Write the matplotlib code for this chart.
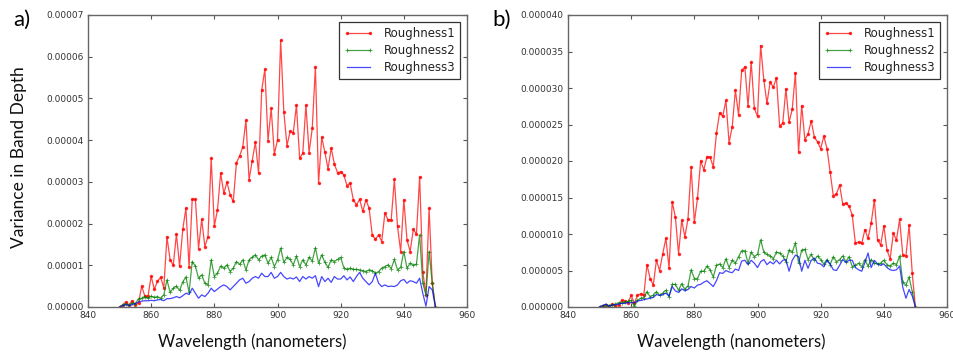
import numpy as np
import matplotlib
matplotlib.use("Agg")
import matplotlib.pyplot as plt
from matplotlib.ticker import FuncFormatter, MultipleLocator

# ---------------- data ----------------
wavelength = np.arange(850, 951)  # nm, 1 nm step

# panel a (units of 1e-5)
red_a = [0.0, 0.05, 0.12, 0.05, 0.15, 0.05, 0.10, 0.50, 0.26, 0.26,
         0.74, 0.42, 0.62, 0.71, 0.46, 1.68, 1.13, 1.00, 1.75, 0.98,
         1.86, 2.37, 0.95, 2.58, 2.58, 1.40, 2.10, 1.45, 1.69, 3.57,
         1.94, 2.33, 3.21, 2.73, 2.99, 2.69, 2.53, 3.46, 3.62, 3.84,
         4.48, 3.05, 3.51, 3.95, 3.21, 5.20, 5.70, 3.99, 4.76, 3.67,
         4.00, 6.40, 4.68, 3.87, 4.21, 4.18, 4.84, 3.57, 3.68, 4.84,
         3.70, 4.28, 5.76, 2.97, 4.07, 3.71, 3.31, 3.81, 3.43, 3.22,
         3.24, 3.17, 2.91, 2.97, 2.57, 2.45, 2.58, 2.29, 2.57, 2.37,
         1.73, 1.62, 1.73, 1.57, 2.25, 2.09, 2.09, 3.06, 1.93, 1.33,
         2.57, 1.61, 1.33, 1.86, 1.75, 3.12, 0.85, 0.29, 2.37, 0.57,
         0.0]
green_a = [0.0, 0.05, 0.08, 0.04, 0.10, 0.08, 0.20, 0.21, 0.25, 0.21,
           0.26, 0.23, 0.25, 0.21, 0.29, 0.65, 0.35, 0.45, 0.50, 0.40,
           0.60, 0.72, 0.35, 1.09, 0.98, 0.69, 0.77, 0.57, 0.53, 1.13,
           0.73, 0.81, 0.98, 0.93, 1.01, 0.85, 0.93, 1.09, 1.02, 1.13,
           0.89, 1.13, 1.19, 1.25, 1.13, 1.22, 1.25, 1.05, 1.19, 0.97,
           1.13, 1.41, 1.07, 1.19, 1.14, 1.01, 1.22, 0.97, 1.13, 1.01,
           1.19, 1.10, 1.42, 1.05, 1.25, 1.07, 0.95, 1.13, 1.09, 1.14,
           1.19, 0.94, 0.90, 0.93, 0.90, 0.90, 0.89, 0.87, 0.85, 0.89,
           0.87, 0.81, 0.85, 0.93, 0.97, 1.01, 0.92, 1.14, 0.89, 0.95,
           1.33, 0.93, 1.05, 1.00, 1.03, 1.73, 0.57, 0.29, 1.33, 0.57,
           0.0]
blue_a = [0.0, 0.03, 0.06, 0.03, 0.06, 0.08, 0.12, 0.14, 0.15, 0.15,
          0.16, 0.15, 0.17, 0.18, 0.15, 0.20, 0.20, 0.22, 0.25, 0.22,
          0.27, 0.33, 0.30, 0.45, 0.33, 0.21, 0.29, 0.25, 0.33, 0.45,
          0.37, 0.43, 0.49, 0.53, 0.49, 0.41, 0.49, 0.57, 0.65, 0.69,
          0.57, 0.61, 0.69, 0.73, 0.69, 0.81, 0.73, 0.73, 0.83, 0.69,
          0.73, 0.83, 0.73, 0.67, 0.70, 0.67, 0.72, 0.61, 0.73, 0.67,
          0.73, 0.69, 0.75, 0.49, 0.73, 0.61, 0.69, 0.59, 0.73, 0.67,
          0.67, 0.75, 0.65, 0.72, 0.61, 0.73, 0.83, 0.69, 0.61, 0.53,
          0.61, 0.81, 0.57, 0.49, 0.53, 0.49, 0.50, 0.49, 0.53, 0.63,
          0.66, 0.57, 0.63, 0.61, 0.57, 0.69, 0.33, 0.02, 0.49, 0.41,
          0.0]

# panel b (units of 1e-6)
red_b = [0.0, 0.1, 0.23, 0.1, 0.37, 0.1, 0.23, 0.92, 0.8, 0.6,
         1.6, 0.5, 1.6, 1.8, 1.6, 5.8, 3.9, 3.0, 6.4, 5.0,
         7.3, 9.4, 5.3, 14.4, 12.3, 7.3, 11.9, 9.6, 12.1, 19.2,
         11.6, 14.9, 20.0, 18.8, 20.6, 20.5, 19.2, 23.8, 26.6, 26.1,
         28.3, 22.5, 24.7, 29.7, 26.3, 32.4, 32.9, 27.5, 33.6, 27.2,
         26.1, 35.8, 31.1, 27.9, 30.8, 30.1, 31.4, 24.8, 25.2, 29.9,
         25.3, 27.1, 32.1, 21.2, 27.6, 22.9, 23.7, 25.5, 23.3, 22.6,
         21.7, 23.4, 21.7, 18.5, 15.2, 15.5, 16.7, 14.1, 14.2, 13.8,
         12.6, 8.7, 8.9, 8.7, 10.6, 9.4, 11.5, 14.7, 9.2, 8.5,
         11.1, 7.8, 6.6, 10.1, 9.2, 12.0, 7.1, 7.0, 11.2, 4.6,
         0.0]
green_b = [0.0, 0.2, 0.3, 0.2, 0.3, 0.4, 0.6, 0.6, 0.7, 0.8,
           0.9, 0.1, 0.9, 1.2, 1.3, 2.1, 1.4, 1.6, 2.1, 1.6,
           1.9, 2.3, 1.4, 3.1, 3.1, 2.3, 3.2, 2.4, 2.9, 5.1,
           3.9, 3.9, 4.9, 4.9, 5.6, 5.1, 4.1, 5.7, 5.9, 5.4,
           6.6, 5.4, 6.4, 6.0, 6.9, 7.7, 7.7, 6.0, 7.5, 6.9,
           7.2, 9.2, 7.5, 7.2, 7.0, 6.6, 7.5, 7.4, 7.0, 6.2,
           7.8, 7.5, 8.8, 6.0, 7.8, 7.9, 6.5, 7.2, 6.4, 7.0,
           6.5, 5.9, 6.5, 5.8, 6.9, 6.2, 6.5, 7.0, 6.2, 6.9,
           5.5, 5.7, 6.0, 5.5, 6.5, 5.6, 6.5, 6.0, 5.9, 6.0,
           6.4, 5.8, 5.6, 6.0, 5.8, 7.0, 3.4, 3.0, 4.1, 2.1,
           0.0]
blue_b = [0.0, 0.2, 0.4, 0.1, 0.3, 0.3, 0.4, 0.5, 0.5, 0.6,
          0.6, 0.6, 0.8, 0.9, 1.0, 1.1, 1.2, 1.3, 1.7, 1.6,
          1.7, 1.9, 1.5, 2.8, 2.2, 2.0, 2.5, 2.2, 2.4, 2.8,
          2.6, 3.0, 3.1, 3.4, 3.6, 3.2, 2.8, 3.6, 4.7, 4.6,
          5.0, 4.8, 4.7, 5.2, 5.0, 6.3, 6.4, 5.8, 6.4, 6.0,
          5.4, 6.2, 6.5, 5.8, 6.2, 5.9, 6.4, 5.9, 6.4, 6.5,
          4.9, 6.4, 7.1, 6.9, 4.9, 6.4, 5.3, 6.4, 6.7, 6.0,
          5.9, 5.5, 6.4, 5.9, 5.1, 5.0, 5.7, 6.5, 6.1, 6.4,
          6.4, 5.4, 5.1, 4.9, 6.1, 7.4, 5.4, 6.4, 5.9, 5.7,
          5.9, 5.4, 5.1, 5.0, 5.1, 5.6, 2.7, 1.2, 2.4, 1.5,
          0.0]

series_names = ["Roughness1", "Roughness2", "Roughness3"]
panel_labels = ["a)", "b)"]
x_label = "Wavelength (nanometers)"
y_label = "Variance in Band Depth"

# ---------------- figure ----------------
W, H = 954, 356
fig = plt.figure(figsize=(W / 100, H / 100), dpi=100)
label_font = ["Lato", "DejaVu Sans"]

axa = fig.add_axes([88 / W, (H - 307) / H, 379 / W, 292 / H])
axb = fig.add_axes([568 / W, (H - 307) / H, 379 / W, 292 / H])

panels = [
    (axa, [np.array(red_a) * 1e-5, np.array(green_a) * 1e-5, np.array(blue_a) * 1e-5],
     7e-5, 1e-5, "{:.5f}"),
    (axb, [np.array(red_b) * 1e-6, np.array(green_b) * 1e-6, np.array(blue_b) * 1e-6],
     4e-5, 5e-6, "{:.6f}"),
]

styles = [
    dict(color="#ff0000", marker=".", markersize=3),
    dict(color="#008000", marker="+", markersize=3, markeredgewidth=0.6),
    dict(color="#0000ff", marker=None),
]

for ax, ys, ymax, ystep, fmt in panels:
    for y, name, st in zip(ys, series_names, styles):
        ax.plot(wavelength, y, lw=0.9, alpha=0.72, label=name, **st)
    ax.set_xlim(840, 960)
    ax.set_ylim(0, ymax)
    ax.xaxis.set_major_locator(MultipleLocator(20))
    ax.yaxis.set_major_locator(MultipleLocator(ystep))
    ax.yaxis.set_major_formatter(FuncFormatter(lambda v, p, f=fmt: f.format(abs(v) if abs(v) < 1e-12 else v)))
    ax.tick_params(direction="in", top=True, right=True, length=3, width=0.8,
                   labelsize=6.5, labelcolor="#333333", color="#555555", pad=3)
    for sp in ax.spines.values():
        sp.set_color("#666666")
        sp.set_linewidth(1.0)
    leg = ax.legend(loc="upper right", fontsize=8.5, numpoints=2, fancybox=False,
                    framealpha=1, edgecolor="#333333", handlelength=2.6,
                    borderaxespad=0.6, labelspacing=0.35, borderpad=0.4)
    leg.get_frame().set_linewidth(0.9)
    for t in leg.get_texts():
        t.set_color("#222222")

# x labels (slightly left of axis centre, as in the reference)
fig.text(252 / W, 1 - 342 / H, x_label, ha="center", va="center",
         fontsize=12, family=label_font, color="#111111")
fig.text(731 / W, 1 - 342 / H, x_label, ha="center", va="center",
         fontsize=12, family=label_font, color="#111111")
# y label
fig.text(19 / W, 1 - 157 / H, y_label, ha="center", va="center", rotation=90,
         fontsize=12.5, family=label_font, color="#111111")
# panel letters
fig.text(22 / W, 1 - 20 / H, panel_labels[0], ha="center", va="center",
         fontsize=16, family=label_font, color="#000000")
fig.text(502 / W, 1 - 20 / H, panel_labels[1], ha="center", va="center",
         fontsize=16, family=label_font, color="#000000")

fig.savefig("out.png", dpi=100)
